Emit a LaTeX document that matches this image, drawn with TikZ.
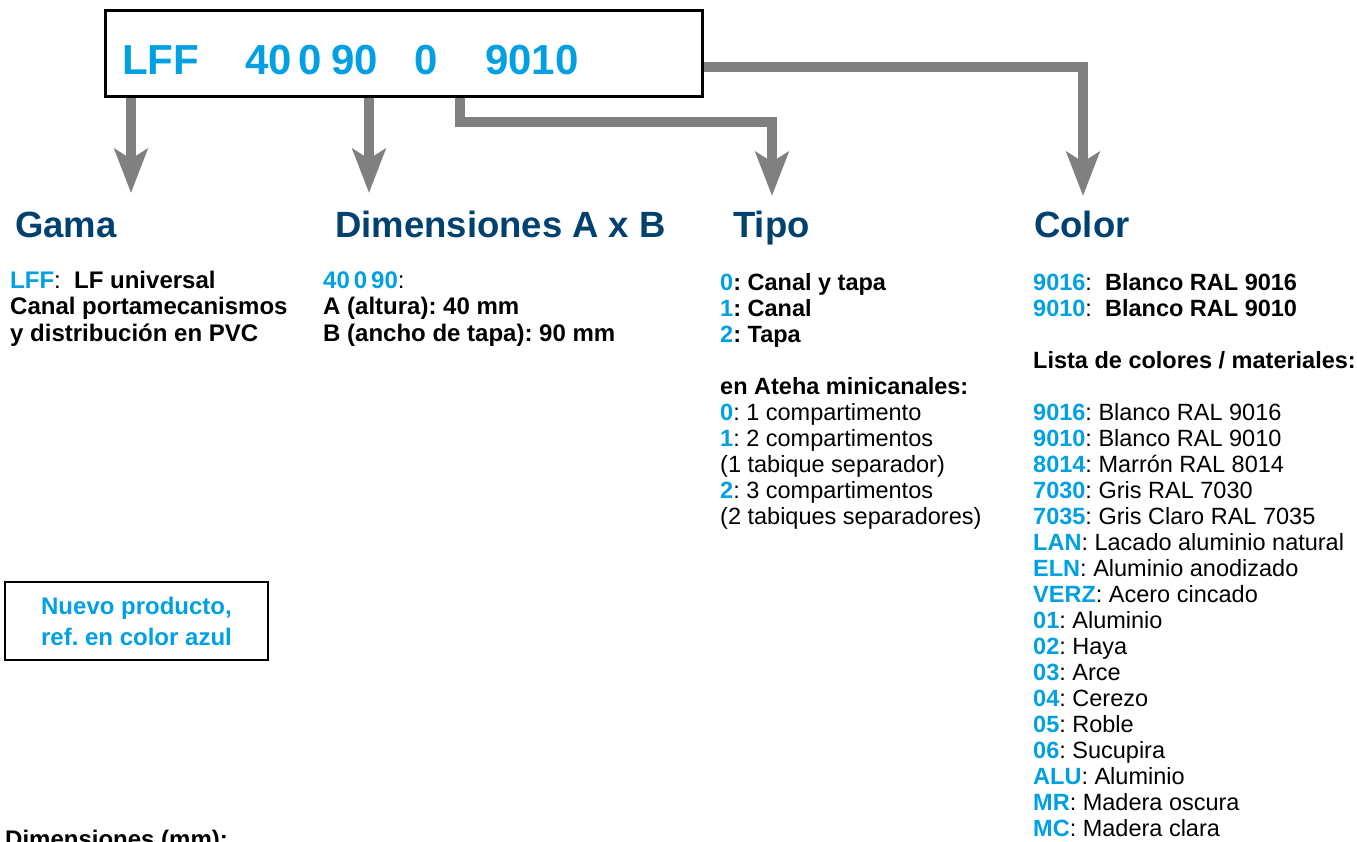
\documentclass[tikz,border=0pt]{standalone}
\usepackage{fontspec}
\setmainfont{Liberation Sans}
\usetikzlibrary{arrows.meta}
\definecolor{refblue}{RGB}{0,160,227}
\definecolor{headblue}{RGB}{0,65,112}
\definecolor{arrgray}{RGB}{128,128,128}
\newcommand{\cb}[1]{\textbf{\textcolor{refblue}{#1}}}
\frenchspacing
\begin{document}
\begin{tikzpicture}[x=1pt,y=-1pt,
  txt/.style={anchor=base west, inner sep=0pt, font=\fontsize{23.5}{26}\selectfont},
  txtl/.style={anchor=base west, inner sep=0pt, font=\fontsize{24}{26.5}\selectfont},
  head/.style={anchor=base west, inner sep=0pt, font=\fontsize{36.5}{40}\selectfont\bfseries, text=headblue},
  code/.style={anchor=base west, inner sep=0pt, font=\fontsize{42}{46}\selectfont\bfseries, text=refblue},
  conn/.style={draw=arrgray, line width=10pt, -{Stealth[length=44pt,width=33pt,inset=10pt]}}]
\useasboundingbox (0,0) rectangle (1357,841);

% code box
\node[draw, line width=3pt, minimum width=597pt, minimum height=86pt, inner sep=0pt] (codebox) at (403.5,53) {};
\node[code] (cLFF) at (122,74) {LFF};
\node[code] (c40) at (245,74) {40};
\node[code] (c0a) at (298,74) {0};
\node[code] (c90) at (331,74) {90};
\node[code] (c0b) at (414,74) {0};
\node[code] (c9010) at (485,74) {9010};

% headings
\node[head] (hGama) at (15,237) {Gama};
\node[head] (hDim) at (335,237) {Dimensiones A x B};
\node[head] (hTipo) at (733,237) {Tipo};
\node[head] (hColor) at (1034,237) {Color};

% arrow tips and bends
\coordinate (tG) at (131,193);
\coordinate (tD) at (369,193);
\coordinate (k3) at (460,122);
\coordinate (tT) at (772,196);
\coordinate (k4) at (1083,67);
\coordinate (tC) at (1083,196);

\draw[conn] (codebox.south -| tG) -- (tG);
\draw[conn] (codebox.south -| tD) -- (tD);
\draw[conn] (codebox.south -| k3) -- (k3) -| (tT);
\draw[conn] (codebox.east |- k4) -- (k4) -- (tC);

% text blocks
\node[txtl] (gamaTxt) at (10,288) {\begin{tabular}[t]{@{}l@{}}
\cb{LFF}:~~\textbf{LF universal}\\
\textbf{Canal portamecanismos}\\
\textbf{y distribución en PVC}
\end{tabular}};

\node[txtl] (dimTxt) at (323,288) {\begin{tabular}[t]{@{}l@{}}
\cb{40\hspace{4pt}0\hspace{4pt}90}:\\
\textbf{A (altura): 40 mm}\\
\textbf{B (ancho de tapa): 90 mm}
\end{tabular}};

\node[txt] (tipoTxt) at (720,290) {\begin{tabular}[t]{@{}l@{}}
\cb{0}\textbf{: Canal y tapa}\\
\cb{1}\textbf{: Canal}\\
\cb{2}\textbf{: Tapa}\\
\\
\textbf{en Ateha minicanales:}\\
\cb{0}: 1 compartimento\\
\cb{1}: 2 compartimentos\\
(1 tabique separador)\\
\cb{2}: 3 compartimentos\\
(2 tabiques separadores)
\end{tabular}};

\node[txt] (colorTxt) at (1033,290) {\begin{tabular}[t]{@{}l@{}}
\cb{9016}:~~\textbf{Blanco RAL 9016}\\
\cb{9010}:~~\textbf{Blanco RAL 9010}\\
\\
\textbf{Lista de colores / materiales:}\\
\\
\cb{9016}: Blanco RAL 9016\\
\cb{9010}: Blanco RAL 9010\\
\cb{8014}: Marrón RAL 8014\\
\cb{7030}: Gris RAL 7030\\
\cb{7035}: Gris Claro RAL 7035\\
\cb{LAN}: Lacado aluminio natural\\
\cb{ELN}: Aluminio anodizado\\
\cb{VERZ}: Acero cincado\\
\cb{01}: Aluminio\\
\cb{02}: Haya\\
\cb{03}: Arce\\
\cb{04}: Cerezo\\
\cb{05}: Roble\\
\cb{06}: Sucupira\\
\cb{ALU}: Aluminio\\
\cb{MR}: Madera oscura\\
\cb{MC}: Madera clara
\end{tabular}};

% new product box
\node[draw, line width=2.5pt, minimum width=263pt, minimum height=78pt, inner sep=0pt,
  align=center, text=refblue, font=\fontsize{24}{31}\selectfont\bfseries] (nuevo) at (136.5,621)
  {Nuevo producto,\\ref. en color azul};

% bottom (clipped by the page edge, as in the reference) title
\node[txt, font=\fontsize{24}{26}\selectfont\bfseries] (dimmm) at (5,847) {Dimensiones (mm):};
\end{tikzpicture}
\end{document}
